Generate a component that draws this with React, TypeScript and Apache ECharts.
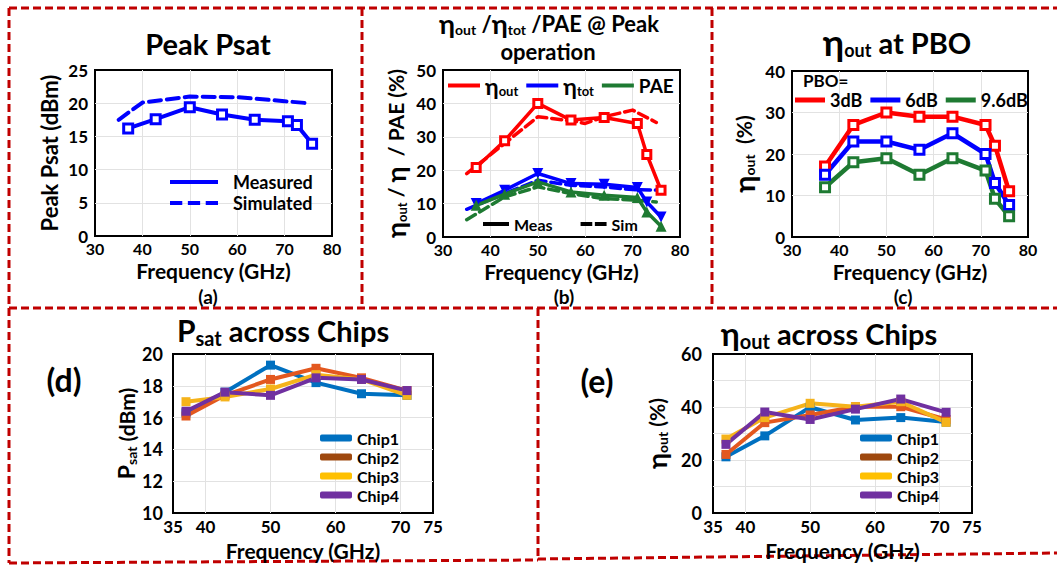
import React, { useEffect, useRef } from 'react';
import * as echarts from 'echarts';

const FONT = 'Lato, "DejaVu Sans", sans-serif';

// ---------- (a) Peak Psat ----------
const aMeasFreq = [37, 42.8, 50, 56.8, 63.7, 70.7, 72.6, 75.8];
const aMeasPsat = [16.2, 17.6, 19.4, 18.3, 17.5, 17.3, 16.7, 13.9];
const aSimFreq = [35, 40, 50, 60, 70, 75];
const aSimPsat = [17.5, 20.1, 21.0, 20.9, 20.3, 20.0];
const aYTicks = [0, 5, 10, 15, 20, 25];

// ---------- (b) eta_out / eta_tot / PAE ----------
const bMeasFreq = [37, 43, 50, 57, 64, 71, 73, 76];
const bEtaOutMeas = [20.8, 28.8, 40, 35, 35.8, 34, 24.7, 14];
const bEtaTotMeas = [10, 14, 19, 16, 15.8, 14.8, 10.5, 6];
const bPaeMeas = [9.5, 12.8, 16.5, 13.5, 12.5, 11.8, 7.5, 3.2];
const bEtaOutSimFreq = [35, 43, 50, 57, 60, 64, 70, 75];
const bEtaOutSim = [19, 28, 36, 34.8, 34, 36, 38, 34.3];
const bEtaTotSimFreq = [35, 43, 50, 57, 64, 70, 76];
const bEtaTotSim = [8.3, 13, 17, 15.5, 15, 14.2, 14];
const bPaeSimFreq = [35, 43, 50, 57, 64, 71, 75];
const bPaeSim = [5.2, 12, 15, 13, 11.5, 11, 10.5];
const bYTicks = [0, 10, 20, 30, 40, 50];

// ---------- (c) eta_out at PBO ----------
const cFreq = [37, 43, 50, 57, 64, 71, 73, 76];
const cPbo3 = [17, 27, 30, 29, 29, 27, 22, 11];
const cPbo6 = [15, 23, 23, 21, 25, 20, 13, 7.7];
const cPbo96 = [12, 18, 19, 15, 19, 16, 9.2, 5];
const cYTicks = [0, 10, 20, 30, 40];

const topFreqTicks = [30, 40, 50, 60, 70, 80];

// ---------- (d) Psat across chips ----------
const chipFreq = [37, 43, 50, 57, 64, 71];
const dChip1 = [16.3, 17.6, 19.3, 18.2, 17.5, 17.4];
const dChip2 = [16.1, 17.4, 18.4, 19.1, 18.5, 17.7];
const dChip3 = [17.0, 17.3, 17.8, 18.7, 18.4, 17.4];
const dChip4 = [16.4, 17.6, 17.4, 18.5, 18.4, 17.7];
const dYTicks = [10, 12, 14, 16, 18, 20];

// ---------- (e) eta_out across chips ----------
const eChip1 = [21.2, 29.1, 39.9, 35.1, 36, 34.3];
const eChip2 = [22.1, 34.1, 37, 40.1, 40.1, 35.3];
const eChip3 = [27.9, 36, 41.4, 40.1, 42, 34.2];
const eChip4 = [25.9, 38.1, 35.3, 39.2, 43, 38];
const eYTicks = [0, 10, 20, 30, 40, 50, 60];
const eYLabels = [0, 20, 40, 60];

const bottomFreqTicks = [35, 40, 45, 50, 55, 60, 65, 70, 75];
const bottomFreqLabels = [35, 40, 50, 60, 70, 75];

const chipNames = ['Chip1', 'Chip2', 'Chip3', 'Chip4'];
const bLegendNames = ['ηout', 'ηtot', 'PAE'];
const cLegendNames = ['3dB', '6dB', '9.6dB'];

const BLUE = '#0000ff';
const RED = '#ff0000';
const GREEN = '#1e7a32';
const CHIP_COLORS = ['#0070c0', '#e3581f', '#f5b31b', '#7030a0'];
const CHIP_LEGEND = ['#0070c0', '#9e480e', '#ffc000', '#7030a0'];
const GRIDC = '#e2e2e2';
const T = 'rgba(0,0,0,0)';
const BORDER = '#c00000';

const B = { fontFamily: FONT, fontWeight: 'bold' as const, color: '#000' };

const solidIcon = 'path://M0,0H40V4H0Z';
const dashIcon = 'path://M0,0H11V4H0Z M16,0H27V4H16Z M32,0H43V4H32Z';

function edgeColors(n: number) {
  const arr: string[] = [];
  for (let i = 0; i < n; i++) arr.push(i === 0 || i === n - 1 ? T : GRIDC);
  return arr;
}

function pairs(xs: number[], ys: number[]) {
  return xs.map((x, i) => [x, ys[i]]);
}

function buildOption() {
  const grids = [
    { left: 95, top: 70, width: 237, height: 166 },
    { left: 443, top: 70, width: 237, height: 167 },
    { left: 792, top: 71, width: 236, height: 166 },
    { left: 173, top: 354, width: 260, height: 159 },
    { left: 713, top: 354, width: 259, height: 159 },
  ].map((g) => ({ ...g, show: true, borderColor: '#000', borderWidth: 2, backgroundColor: T, containLabel: false, outerBoundsMode: 'none' }));

  const topX = (gi: number) => ({
    type: 'value', gridIndex: gi,
    min: topFreqTicks[0], max: topFreqTicks[topFreqTicks.length - 1], interval: topFreqTicks[1] - topFreqTicks[0],
    axisLine: { show: false }, axisTick: { show: false },
    splitLine: { show: true, showMinLine: true, showMaxLine: true, lineStyle: { color: edgeColors(topFreqTicks.length), width: 1 } },
    axisLabel: { ...B, fontSize: 16, margin: 4 },
    name: 'Frequency (GHz)', nameLocation: 'middle', nameGap: 24,
    nameTextStyle: { ...B, fontSize: 21 },
  });
  const bottomX = (gi: number) => ({
    type: 'value', gridIndex: gi,
    min: bottomFreqTicks[0], max: bottomFreqTicks[bottomFreqTicks.length - 1], interval: bottomFreqTicks[1] - bottomFreqTicks[0],
    axisLine: { show: false }, axisTick: { show: false },
    splitLine: { show: true, showMinLine: true, showMaxLine: true, lineStyle: { color: bottomFreqTicks.map((v, i) => (i > 0 && i < bottomFreqTicks.length - 1 && bottomFreqLabels.includes(v) ? GRIDC : T)), width: 1 } },
    axisLabel: { ...B, fontSize: 17, margin: 5, formatter: (v: number) => (bottomFreqLabels.includes(v) ? String(v) : '') },
    name: 'Frequency (GHz)', nameLocation: 'middle', nameGap: 27,
    nameTextStyle: { ...B, fontSize: 21 },
  });
  const yAx = (gi: number, ticks: number[], name: string, nameGap: number, rich: any, labelFmt?: (v: number) => string, margin = 7, labelSize = 17, nameSize = 20) => ({
    type: 'value', gridIndex: gi,
    min: ticks[0], max: ticks[ticks.length - 1], interval: ticks[1] - ticks[0],
    axisLine: { show: false }, axisTick: { show: false },
    splitLine: { show: true, showMinLine: true, showMaxLine: true, lineStyle: { color: edgeColors(ticks.length), width: 1 } },
    axisLabel: { ...B, fontSize: labelSize, margin, ...(labelFmt ? { formatter: labelFmt } : {}) },
    name, nameLocation: 'middle', nameGap,
    nameTextStyle: { ...B, fontSize: nameSize, rich },
  });

  const etaRich = (main: number, sub: number, shift: number) => ({
    e: { ...B, fontSize: main },
    p: { ...B, fontSize: main },
    s: { ...B, fontSize: sub, padding: [shift, 0, 0, 0] },
  });

  const xAxis = [topX(0), topX(1), topX(2), bottomX(3), bottomX(4)];
  const yAxis = [
    yAx(0, aYTicks, 'Peak Psat (dBm)', 35, {}, undefined, 7, 17, 22),
    yAx(1, bYTicks, '{e|η}{s|out} / {e|η}  / PAE (%)', 34, etaRich(27, 13, 12), undefined, 7, 17, 21),
    yAx(2, cYTicks, '{e|η}{s|out}  (%)', 34, etaRich(29, 14, 12), undefined, 7, 17, 21),
    yAx(3, dYTicks, '{p|P}{s|sat} (dBm)', 34, etaRich(23, 14, 10), undefined, 10, 18, 21),
    yAx(4, eYTicks, '{e|η}{s|out} (%)', 43, etaRich(27, 14, 12), (v: number) => (eYLabels.includes(v) ? String(v) : ''), 11, 18, 21),
  ];

  const line = (name: string, gi: number, xs: number[], ys: number[], color: string, opt: any = {}) => ({
    type: 'line', name, xAxisIndex: gi, yAxisIndex: gi, data: pairs(xs, ys),
    lineStyle: { color, width: opt.width ?? 4, type: opt.dash ?? 'solid', cap: 'round', join: 'round' },
    itemStyle: opt.hollow ? { color: '#fff', borderColor: color, borderWidth: 3 } : { color },
    symbol: opt.symbol ?? 'none', symbolSize: opt.size ?? 9, symbolRotate: opt.rotate ?? 0,
    showSymbol: !!opt.symbol, silent: true, z: opt.z ?? 2,
  });

  const series: any[] = [
    // (a)
    line('Simulated', 0, aSimFreq, aSimPsat, BLUE, { dash: [12, 6], width: 4 }),
    line('Measured', 0, aMeasFreq, aMeasPsat, BLUE, { symbol: 'rect', hollow: true, size: 9, width: 4 }),
    // (b)
    line('ηout sim', 1, bEtaOutSimFreq, bEtaOutSim, RED, { dash: [10, 5], width: 3.5 }),
    line('ηtot sim', 1, bEtaTotSimFreq, bEtaTotSim, BLUE, { dash: [10, 5], width: 3.5 }),
    line('PAE sim', 1, bPaeSimFreq, bPaeSim, GREEN, { dash: [10, 5], width: 3.5 }),
    line('ηout', 1, bMeasFreq, bEtaOutMeas, RED, { symbol: 'rect', hollow: true, size: 8, width: 3.5, z: 3 }),
    line('ηtot', 1, bMeasFreq, bEtaTotMeas, BLUE, { symbol: 'triangle', rotate: 180, size: 11, width: 3.5, z: 3 }),
    line('PAE', 1, bMeasFreq, bPaeMeas, GREEN, { symbol: 'triangle', size: 11, width: 3.5, z: 3 }),
    { type: 'line', name: 'Meas', xAxisIndex: 1, yAxisIndex: 1, data: [], lineStyle: { color: '#000' }, itemStyle: { color: '#000' } },
    { type: 'line', name: 'Sim', xAxisIndex: 1, yAxisIndex: 1, data: [], lineStyle: { color: '#000' }, itemStyle: { color: '#000' } },
    // (c)
    line('3dB', 2, cFreq, cPbo3, RED, { symbol: 'rect', hollow: true, size: 9, width: 4.5 }),
    line('6dB', 2, cFreq, cPbo6, BLUE, { symbol: 'rect', hollow: true, size: 9, width: 4.5 }),
    line('9.6dB', 2, cFreq, cPbo96, GREEN, { symbol: 'rect', hollow: true, size: 9, width: 4.5 }),
  ];
  const dData = [dChip1, dChip2, dChip3, dChip4];
  const eData = [eChip1, eChip2, eChip3, eChip4];
  chipNames.forEach((n, i) => series.push(line(n, 3, chipFreq, dData[i], CHIP_COLORS[i], { symbol: 'rect', size: 9, width: 4 })));
  chipNames.forEach((n, i) => series.push(line(n, 4, chipFreq, eData[i], CHIP_COLORS[i], { symbol: 'rect', size: 9, width: 4 })));

  const legBase = { selectedMode: false, symbolKeepAspect: false, itemStyle: { borderWidth: 0 }, padding: 0 };
  const bRich = { e: { ...B, fontSize: 23 }, s: { ...B, fontSize: 13, padding: [10, 0, 0, 0] } };
  const chipLegend = (left: number) => ({
    ...legBase, left, top: 429, orient: 'vertical', itemWidth: 32, itemHeight: 7, itemGap: 1,
    textStyle: { ...B, fontSize: 16, lineHeight: 18 },
    data: chipNames.map((n, i) => ({ name: n, icon: 'roundRect', itemStyle: { color: CHIP_LEGEND[i] } })),
  });
  const legend = [
    {
      ...legBase, left: 170, top: 173, orient: 'vertical', itemWidth: 48, itemHeight: 4, itemGap: 3,
      textStyle: { ...B, fontSize: 18, padding: [0, 0, 0, 10] },
      data: [
        { name: 'Measured', icon: solidIcon, itemStyle: { color: BLUE } },
        { name: 'Simulated', icon: dashIcon, itemStyle: { color: BLUE } },
      ],
    },
    {
      ...legBase, left: 448, top: 74, orient: 'horizontal', itemWidth: 32, itemHeight: 4, itemGap: 8,
      textStyle: { ...B, fontSize: 19, rich: bRich },
      formatter: (n: string) => (n === 'PAE' ? n : '{e|η}{s|' + n.slice(1) + '}'),
      data: bLegendNames.map((n, i) => ({ name: n, icon: solidIcon, itemStyle: { color: [RED, BLUE, GREEN][i] } })),
    },
    {
      ...legBase, left: 483, top: 216, orient: 'horizontal', itemWidth: 26, itemHeight: 4, itemGap: 28,
      textStyle: { ...B, fontSize: 16 },
      data: [
        { name: 'Meas', icon: solidIcon, itemStyle: { color: '#000' } },
        { name: 'Sim', icon: 'path://M0,0H18V4H0Z M22,0H40V4H22Z', itemStyle: { color: '#000' } },
      ],
    },
    {
      ...legBase, left: 795, top: 91, orient: 'horizontal', itemWidth: 30, itemHeight: 5, itemGap: 8,
      textStyle: { ...B, fontSize: 18 },
      data: cLegendNames.map((n, i) => ({ name: n, icon: solidIcon, itemStyle: { color: [RED, BLUE, GREEN][i] } })),
    },
    chipLegend(320),
    chipLegend(860),
  ];

  const ttl = (text: string, x: number, y: number, size: number, rich: any = {}, align = 'center') => ({
    text, left: x, top: y, padding: 0, textAlign: align, textVerticalAlign: 'middle',
    textStyle: { ...B, fontSize: size, rich },
  });
  const title = [
    ttl('Peak Psat', 208, 43, 29),
    ttl('{e|η}{s|out} /{e|η}{s|tot} /PAE @ Peak', 549, 23, 22, etaRich(27, 14, 12)),
    ttl('operation', 548, 51, 22),
    ttl('{e|η}{s|out} at PBO', 897, 42, 29, etaRich(36, 18, 16)),
    ttl('{p|P}{s|sat} across Chips', 283, 330, 29, etaRich(30, 20, 16)),
    ttl('{e|η}{s|out} across Chips', 829, 333, 29, etaRich(32, 20, 16)),
    ttl('(a)', 208, 296, 19),
    ttl('(b)', 564, 296, 19),
    ttl('(c)', 903, 296, 19),
    ttl('(d)', 64, 379, 32),
    ttl('(e)', 597, 380, 32),
    ttl('PBO=', 803, 80, 17, {}, 'left'),
  ];

  const dash = { stroke: BORDER, lineWidth: 3, lineDash: [8, 4] };
  const seg = (x1: number, y1: number, x2: number, y2: number) => ({ type: 'line', silent: true, shape: { x1, y1, x2, y2 }, style: dash });
  const graphic = [
    seg(9, 8, 1057, 8),
    seg(9, 8, 9, 563),
    seg(362, 8, 362, 308),
    seg(712, 8, 712, 308),
    seg(9, 308, 1057, 308),
    seg(538, 308, 538, 560),
    seg(9, 563, 538, 560),
    seg(538, 559, 1057, 553),
  ];

  return { animation: false, backgroundColor: '#fff', grid: grids, xAxis, yAxis, series, legend, title, graphic };
}

export default function App() {
  const ref = useRef<HTMLDivElement>(null);
  useEffect(() => {
    const chart = echarts.init(ref.current!, null, { renderer: 'svg' });
    chart.setOption(buildOption() as any);
    return () => chart.dispose();
  }, []);
  return <div ref={ref} style={{ position: 'fixed', left: 0, top: 0, width: 1057, height: 568, background: '#fff' }} />;
}
